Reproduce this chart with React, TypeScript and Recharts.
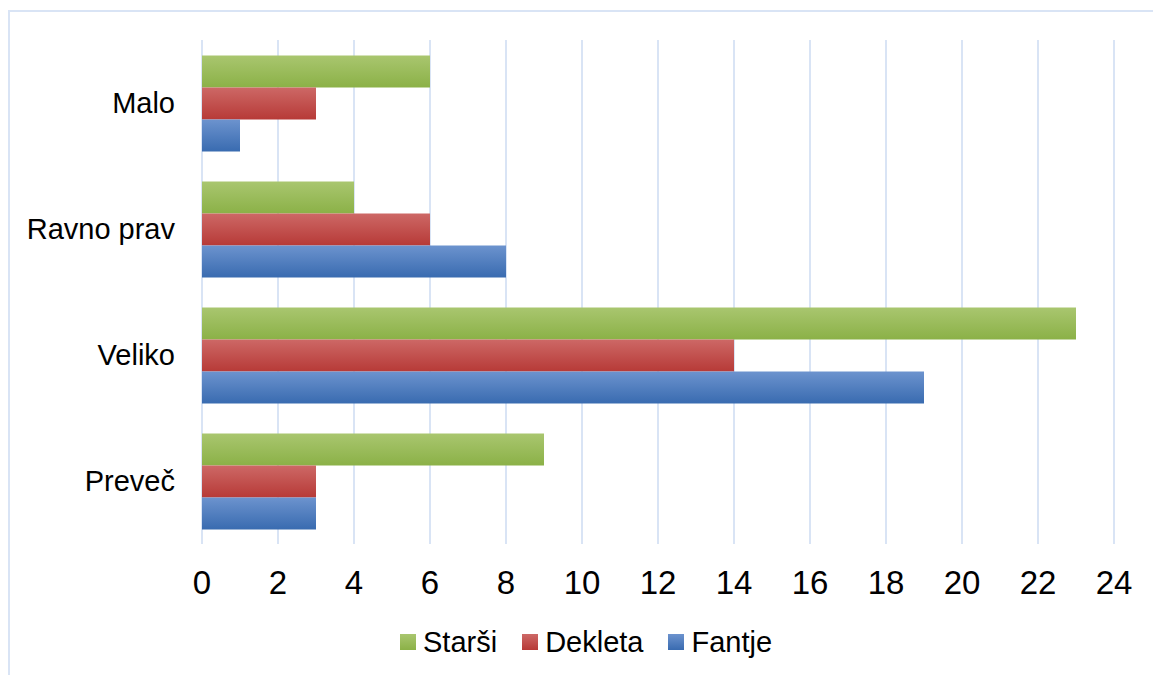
import React from "react";
import { BarChart, Bar, XAxis, YAxis, CartesianGrid } from "recharts";

const categories = ["Malo", "Ravno prav", "Veliko", "Preveč"];
const starsi = [6, 4, 23, 9];
const dekleta = [3, 6, 14, 3];
const fantje = [1, 8, 19, 3];
const xTicks = [0, 2, 4, 6, 8, 10, 12, 14, 16, 18, 20, 22, 24];

const seriesList = [
  { key: "starsi", name: "Starši", top: "#A9C66F", bottom: "#8BB147" },
  { key: "dekleta", name: "Dekleta", top: "#CD6866", bottom: "#B73A37" },
  { key: "fantje", name: "Fantje", top: "#6C93CE", bottom: "#396BB0" },
];

const data = categories.map((name, i) => ({
  name,
  starsi: starsi[i],
  dekleta: dekleta[i],
  fantje: fantje[i],
}));

const font = "'Liberation Sans', Arial, sans-serif";

const App = () => {
  return (
    <div
      style={{
        position: "absolute",
        left: 0,
        top: 0,
        width: 1153,
        height: 675,
        background: "#fff",
        overflow: "hidden",
        fontFamily: font,
      }}
    >
      <div
        style={{
          position: "absolute",
          left: 8,
          top: 10,
          width: 1200,
          height: 700,
          borderTop: "2px solid #D9E4F5",
          borderLeft: "2px solid #D9E4F5",
        }}
      />
      <div style={{ position: "absolute", left: 0, top: 0 }}>
        <BarChart
          width={1153}
          height={675}
          data={data}
          layout="vertical"
          margin={{ top: 40, right: 39, left: 0, bottom: 71 }}
          barCategoryGap="12.3%"
          barGap={0}
        >
          <defs>
            {seriesList.map((s) => (
              <linearGradient key={s.key} id={`grad-${s.key}`} x1="0" y1="0" x2="0" y2="1">
                <stop offset="0%" stopColor={s.top} />
                <stop offset="100%" stopColor={s.bottom} />
              </linearGradient>
            ))}
          </defs>
          <CartesianGrid horizontal={false} stroke="#D9E4F5" strokeWidth={2} />
          <XAxis
            type="number"
            domain={[0, 24]}
            ticks={xTicks}
            interval={0}
            axisLine={false}
            tickLine={false}
            tickSize={0}
            tickMargin={27}
            height={60}
            tick={{ fill: "#000", fontSize: 33, fontFamily: font }}
          />
          <YAxis
            type="category"
            dataKey="name"
            width={202}
            axisLine={false}
            tickLine={false}
            tickSize={0}
            tickMargin={27}
            tick={{ fill: "#000", fontSize: 29, fontFamily: font }}
          />
          {seriesList.map((s) => (
            <Bar
              key={s.key}
              dataKey={s.key}
              name={s.name}
              fill={`url(#grad-${s.key})`}
              isAnimationActive={false}
            />
          ))}
        </BarChart>
      </div>
      <div
        style={{
          position: "absolute",
          left: 400,
          top: 626,
          height: 32,
          display: "flex",
          alignItems: "center",
          fontSize: 29,
          color: "#000",
        }}
      >
        {seriesList.map((s) => (
          <div key={s.key} style={{ display: "flex", alignItems: "center", marginRight: 25 }}>
            <div
              style={{
                width: 16,
                height: 16,
                background: `linear-gradient(${s.top}, ${s.bottom})`,
                marginRight: 7,
              }}
            />
            <span>{s.name}</span>
          </div>
        ))}
      </div>
    </div>
  );
};

export default App;
